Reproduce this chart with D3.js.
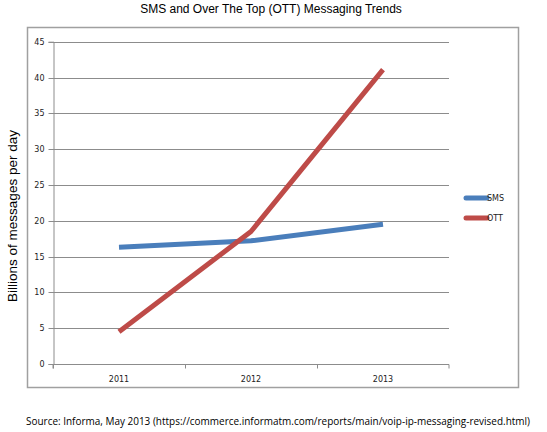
<!DOCTYPE html>
<html><head><meta charset="utf-8">
<script src="https://cdn.jsdelivr.net/npm/d3@7"></script>
<style>body{margin:0;background:#fff}svg{display:block}</style>
</head><body><div id="c"></div>
<script>
const categories = ["2011","2012","2013"];
const smsValues = [16.3, 17.2, 19.5];
const ottValues = [4.5, 18.5, 41.1];
const yTicks = [0,5,10,15,20,25,30,35,40,45];
const seriesNames = ["SMS","OTT"];
const seriesColors = ["#4a7ebb","#be4b48"];
const title = "SMS and Over The Top (OTT) Messaging Trends";
const yTitle = "Billions of messages per day";
const source = "Source: Informa, May 2013 (https://commerce.informatm.com/reports/main/voip-ip-messaging-revised.html)";

const W=547,H=432;
const svg=d3.select("#c").append("svg").attr("width",W).attr("height",H);
svg.append("rect").attr("width",W).attr("height",H).attr("fill","#fff");

svg.append("text").attr("x",271).attr("y",13).attr("text-anchor","middle")
 .attr("font-family","Liberation Sans, Arial, sans-serif").attr("font-size",12).attr("fill","#000").text(title);

svg.append("rect").attr("x",27.5).attr("y",27.5).attr("width",491).attr("height",360)
 .attr("fill","none").attr("stroke","#a0a0a0").attr("stroke-width",1.5);

const x=d3.scaleBand().domain(categories).range([53,449]);
const y=d3.scaleLinear().domain([0,45]).range([364,41.7]);

const g=svg.append("g");
g.selectAll("line.grid").data(yTicks.filter(d=>d>0)).join("line")
 .attr("x1",53).attr("x2",449).attr("y1",d=>Math.round(y(d))+0.5).attr("y2",d=>Math.round(y(d))+0.5)
 .attr("stroke","#8c8c8c").attr("stroke-width",1);

const ya=d3.axisLeft(y).tickValues(yTicks).tickSize(5).tickPadding(4);
const yg=svg.append("g").attr("transform","translate(53.5,0)").call(ya);
yg.select(".domain").attr("stroke","#8c8c8c");
yg.selectAll(".tick line").attr("stroke","#8c8c8c");
yg.selectAll(".tick text").attr("font-family","DejaVu Sans, sans-serif").attr("font-size",8).attr("fill","#222");
yg.selectAll(".tick").attr("transform",d=>`translate(0,${Math.round(y(d))+0.5})`);

const xa=d3.axisBottom(x).tickSize(4).tickSizeOuter(4).tickPadding(8);
const xg=svg.append("g").attr("transform","translate(0,364.5)").call(xa);
xg.select(".domain").attr("stroke","#8c8c8c").attr("d","M53,0V0H449V4M53,4V0");
xg.selectAll(".tick line").remove();
xg.selectAll(".tick text").attr("font-family","DejaVu Sans, sans-serif").attr("font-size",8).attr("fill","#222");
xg.selectAll("line.bt").data(categories).join("line").attr("class","bt")
 .attr("x1",d=>x(d)+0.5).attr("x2",d=>x(d)+0.5).attr("y1",0).attr("y2",4).attr("stroke","#8c8c8c");

svg.append("text").attr("transform","translate(17,216) rotate(-90)").attr("text-anchor","middle")
 .attr("font-family","Liberation Sans, Arial, sans-serif").attr("font-size",13.5).attr("fill","#000").text(yTitle);

const line=d3.line().x((d,i)=>x(categories[i])+x.bandwidth()/2).y(d=>y(d));
[smsValues,ottValues].forEach((vals,i)=>{
  svg.append("path").attr("d",line(vals)).attr("fill","none").attr("stroke",seriesColors[i])
   .attr("stroke-width",5).attr("stroke-linejoin","round").attr("stroke-linecap","butt");
});

const leg=svg.append("g");
seriesNames.forEach((n,i)=>{
  const yy=198+i*20;
  leg.append("line").attr("x1",466).attr("x2",487).attr("y1",yy).attr("y2",yy)
   .attr("stroke",seriesColors[i]).attr("stroke-width",5).attr("stroke-linecap","round");
  leg.append("text").attr("x",487).attr("y",yy+3).attr("font-family","DejaVu Sans, sans-serif")
   .attr("font-size",8).attr("fill","#222").text(n);
});

svg.append("text").attr("x",26).attr("y",425).attr("font-family","Open Sans, sans-serif")
 .attr("font-size",10).attr("textLength",504).attr("lengthAdjust","spacingAndGlyphs")
 .attr("fill","#000").text(source);
</script></body></html>
